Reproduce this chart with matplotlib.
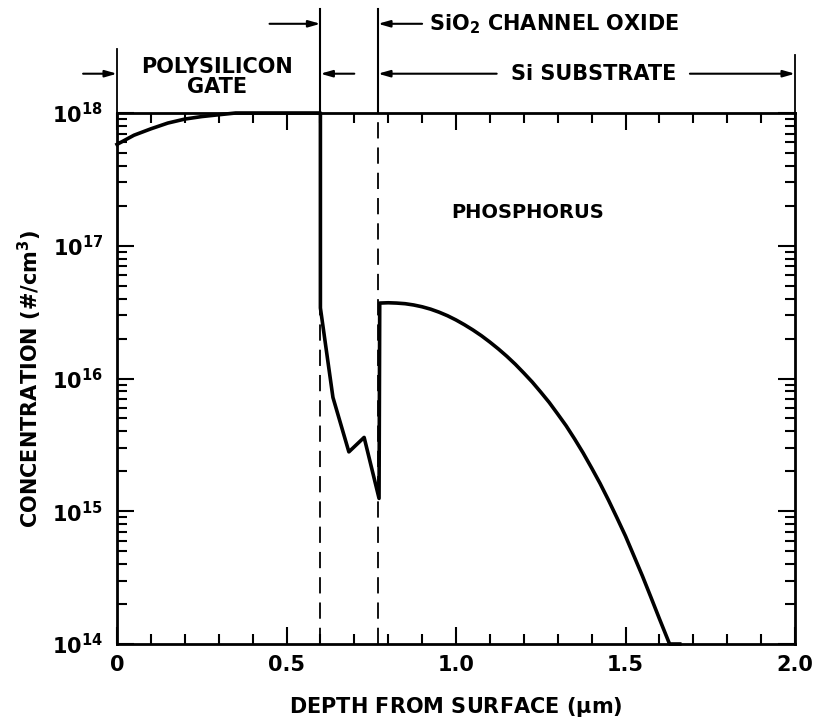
import matplotlib
matplotlib.use("Agg")
import matplotlib.pyplot as plt
from matplotlib.transforms import blended_transform_factory
from matplotlib.ticker import FixedLocator, LogLocator, NullFormatter

# ---- data ----
# polysilicon gate
gate_depth = [0.0, 0.05, 0.10, 0.15, 0.20, 0.25, 0.30, 0.35, 0.60]
gate_conc = [5.8e17, 6.8e17, 7.6e17, 8.4e17, 9.0e17, 9.4e17, 9.7e17, 1.0e18, 1.0e18]
# SiO2 channel oxide
oxide_depth = [0.600, 0.637, 0.684, 0.729, 0.773]
oxide_conc = [3.4e16, 7.2e15, 2.8e15, 3.6e15, 1.25e15]
# Si substrate
sub_depth = [0.775, 0.80, 0.825, 0.85, 0.875, 0.90, 0.925, 0.95, 0.975, 1.00,
             1.025, 1.05, 1.075, 1.10, 1.125, 1.15, 1.175, 1.20, 1.225, 1.25,
             1.275, 1.30, 1.325, 1.35, 1.375, 1.40, 1.425, 1.45, 1.475, 1.50,
             1.525, 1.55, 1.575, 1.60, 1.63, 1.66]
sub_conc = [3.70e16, 3.72e16, 3.70e16, 3.66e16, 3.58e16, 3.47e16, 3.33e16, 3.16e16, 2.97e16, 2.76e16,
            2.54e16, 2.32e16, 2.10e16, 1.88e16, 1.67e16, 1.47e16, 1.28e16, 1.10e16, 9.4e15, 7.9e15,
            6.6e15, 5.4e15, 4.4e15, 3.5e15, 2.75e15, 2.12e15, 1.62e15, 1.21e15, 8.9e14, 6.5e14,
            4.6e14, 3.25e14, 2.25e14, 1.55e14, 1.0e14, 1.0e14]

depth = gate_depth + oxide_depth + sub_depth
conc = gate_conc + oxide_conc + sub_conc

x_ticks_major = [0, 0.5, 1.0, 1.5, 2.0]
x_tick_labels = ["0", "0.5", "1.0", "1.5", "2.0"]
y_ticks = [1e14, 1e15, 1e16, 1e17, 1e18]
y_tick_labels = [r"$10^{14}$", r"$10^{15}$", r"$10^{16}$", r"$10^{17}$", r"$10^{18}$"]
boundaries = [0.0, 0.6, 0.77, 2.0]

plt.rcParams['font.family'] = ['DejaVu Sans']
plt.rcParams['font.weight'] = 'bold'
plt.rcParams['mathtext.default'] = 'bf'

fig = plt.figure(figsize=(8.18, 7.25), dpi=100)
ax = fig.add_axes([117/818, 1-644/725, (795-117)/818, (644-113)/725])

ax.plot(depth, conc, color='black', lw=2.6, solid_joinstyle='round', clip_on=False, zorder=3)
ax.set_yscale('log')
ax.set_xlim(0, 2.0)
ax.set_ylim(1e14, 1e18)

for b in boundaries[1:3]:
    ax.axvline(b, color='black', lw=1.3, ls=(0, (9, 5)), zorder=2)

for s in ax.spines.values():
    s.set_linewidth(2.0)

ax.set_xticks(x_ticks_major)
ax.set_xticklabels(x_tick_labels, fontsize=15, fontweight='bold')
ax.xaxis.set_minor_locator(FixedLocator([0.1, 0.2, 0.3, 0.4, 0.6, 0.7, 0.8, 0.9, 1.1, 1.2,
                                         1.3, 1.4, 1.6, 1.7, 1.8, 1.9]))
ax.set_yticks(y_ticks)
ax.set_yticklabels(y_tick_labels, fontsize=15)
ax.yaxis.set_minor_locator(LogLocator(base=10, subs=range(2, 10)))
ax.yaxis.set_minor_formatter(NullFormatter())
ax.tick_params(which='both', direction='in', top=True, right=True, width=1.5)
ax.tick_params(which='major', length=12)
ax.tick_params(axis='x', which='major', pad=8)
ax.tick_params(axis='y', which='major', pad=10)
ax.tick_params(which='minor', length=7)

ax.set_xlabel(r"DEPTH FROM SURFACE ($\mu$m)", fontsize=15, fontweight='bold', labelpad=14)
ax.set_ylabel(r"CONCENTRATION (#/cm$^3$)", fontsize=15, fontweight='bold', labelpad=6)

ax.text(1.21, 10**17.25, "PHOSPHORUS", fontsize=14, fontweight='bold', ha='center', va='center')

# ---- region annotations above the axes ----
tr = blended_transform_factory(ax.transData, ax.transAxes)
y_hi, y_lo = 1.168, 1.074
ax.plot([0, 0], [1.0, 1.12], color='black', lw=1.3, transform=tr, clip_on=False)
ax.plot([0.6, 0.6], [1.0, 1.195], color='black', lw=1.5, transform=tr, clip_on=False)
ax.plot([0.77, 0.77], [1.0, 1.195], color='black', lw=1.5, transform=tr, clip_on=False)
ax.plot([2.0, 2.0], [1.0, 1.11], color='black', lw=1.3, transform=tr, clip_on=False)

ap = dict(arrowstyle='-|>,head_length=0.7,head_width=0.2', color='black', lw=1.5,
          shrinkA=0, shrinkB=0)

def arrow(x0, x1, y):
    ax.annotate('', xy=(x1, y), xytext=(x0, y), xycoords=tr, textcoords=tr,
                arrowprops=ap, annotation_clip=False)

arrow(-0.10, 0.0, y_lo)
arrow(0.45, 0.6, y_hi)
arrow(0.70, 0.6, y_lo)
arrow(0.90, 0.77, y_hi)
arrow(1.12, 0.77, y_lo)
arrow(1.69, 2.0, y_lo)

ax.text(0.295, 1.068, "POLYSILICON\nGATE", transform=tr, ha='center', va='center',
        fontsize=15, fontweight='bold', linespacing=1.0)
ax.text(0.92, y_hi, r"SiO$_2$ CHANNEL OXIDE", transform=tr, ha='left', va='center',
        fontsize=15, fontweight='bold')
ax.text(1.405, y_lo, "Si SUBSTRATE", transform=tr, ha='center', va='center',
        fontsize=15, fontweight='bold')

fig.savefig("out.png", dpi=100)
